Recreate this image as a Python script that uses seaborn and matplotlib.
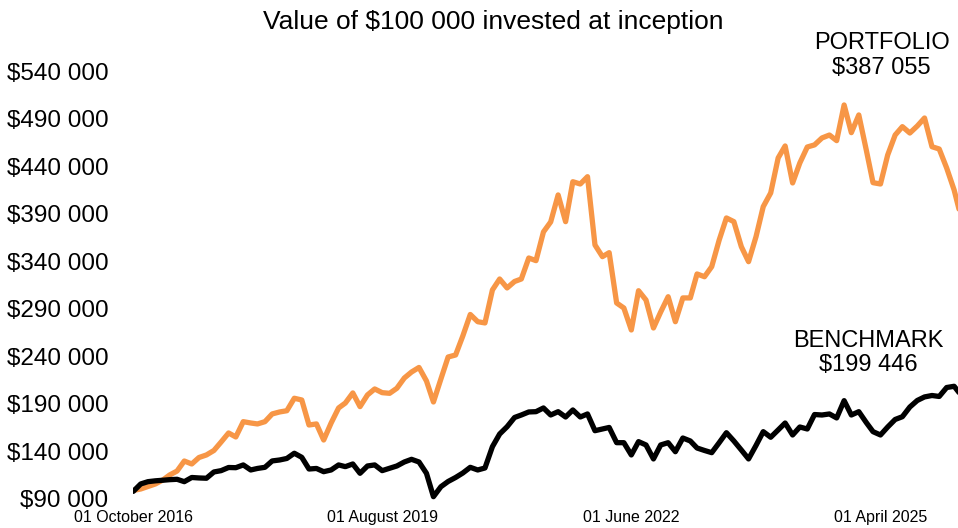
import pandas as pd
import matplotlib
matplotlib.use("Agg")
import matplotlib.pyplot as plt
import matplotlib.ticker as mticker
import seaborn as sns

# monthly values in $ thousands, October 2016 onwards
portfolio = [
    99.0, 100.5, 103.1, 105.8, 110.0, 115.2, 119.4, 129.9, 126.8, 133.6,
    136.3, 141.0, 149.9, 159.4, 155.2, 171.3, 169.9, 168.9, 171.3, 179.4,
    181.5, 182.8, 195.9, 194.1, 167.8, 168.9, 152.0, 169.9, 185.7, 190.9,
    201.5, 187.1, 199.4, 205.7, 201.8, 201.1, 206.4, 217.2, 223.5, 228.3,
    214.1, 192.0, 216.2, 239.3, 241.4, 261.4, 284.0, 276.4, 275.1, 309.8,
    321.3, 311.9, 318.7, 321.3, 343.4, 340.6, 370.8, 381.3, 409.7, 381.6,
    423.6, 421.2, 428.9, 357.1, 344.8, 349.0, 296.1, 290.8, 267.7, 309.0,
    299.2, 269.8, 286.6, 302.7, 276.4, 301.4, 301.4, 326.6, 323.7, 334.3,
    362.3, 385.5, 381.6, 355.3, 339.5, 365.8, 397.4, 411.8, 448.6, 461.2,
    422.3, 443.3, 460.1, 462.3, 469.6, 472.7, 466.8, 504.3, 475.2, 493.8,
    457.0, 422.6, 421.2, 451.7, 472.7, 481.5, 474.8, 482.2, 490.6, 460.4,
    458.0, 438.0, 414.9, 387.055,
]
benchmark = [
    98.0, 105.8, 108.2, 109.1, 109.7, 110.3, 110.7, 108.2, 112.6, 112.1,
    111.8, 118.4, 119.8, 123.1, 122.9, 125.8, 120.5, 122.1, 123.3, 130.0,
    131.0, 132.6, 138.1, 133.8, 121.5, 122.1, 118.7, 120.5, 125.8, 124.0,
    126.8, 117.0, 124.7, 125.8, 119.8, 122.3, 124.7, 128.9, 131.7, 128.9,
    117.0, 92.4, 102.9, 108.4, 112.6, 117.3, 123.3, 120.5, 122.6, 145.0,
    158.3, 166.0, 175.7, 178.3, 181.5, 181.8, 185.7, 178.3, 181.8, 176.2,
    183.6, 176.2, 179.4, 161.8, 163.6, 165.2, 149.2, 149.2, 136.3, 150.3,
    146.8, 132.1, 146.8, 149.2, 139.7, 154.1, 151.0, 143.6, 141.0, 138.7,
    149.2, 159.7, 151.0, 141.5, 132.1, 146.3, 160.8, 154.9, 162.6, 169.9,
    157.3, 165.7, 163.6, 178.8, 178.3, 179.4, 175.2, 193.4, 178.3, 181.8,
    170.4, 160.8, 157.3, 165.7, 173.6, 176.5, 186.7, 193.6, 197.3, 198.8,
    197.8, 207.2, 208.5, 199.446,
]
dates = pd.date_range("2016-10-01", periods=len(portfolio), freq="MS")
tick_dates = pd.to_datetime(["2016-10-01", "2019-08-01", "2022-06-01", "2025-04-01"])
y_ticks = list(range(90000, 540001, 50000))

df = pd.DataFrame({
    "date": list(dates) * 2,
    "value": [v * 1000 for v in portfolio] + [v * 1000 for v in benchmark],
    "series": ["Portfolio"] * len(portfolio) + ["Benchmark"] * len(benchmark),
})

sns.set_style("white")
plt.rcParams["font.family"] = ["Liberation Sans", "DejaVu Sans"]
plt.rcParams["text.color"] = "black"
plt.rcParams["xtick.color"] = "black"
plt.rcParams["ytick.color"] = "black"

fig = plt.figure(figsize=(9.58, 5.28), dpi=100)
ax = fig.add_axes([0.1391, 0.0436, 0.8639, 0.8428])

sns.lineplot(data=df, x="date", y="value", hue="series",
             palette={"Portfolio": "#F79646", "Benchmark": "#000000"},
             linewidth=3.8, legend=False, ax=ax)

ax.set_xlim(dates[0], dates[-1])
ax.set_ylim(83690, 551600)
ax.set_yticks(y_ticks)
ax.yaxis.set_major_formatter(mticker.FuncFormatter(
    lambda v, p: "$" + f"{int(v):,}".replace(",", " ")))
ax.set_xticks(tick_dates)
ax.set_xticklabels([d.strftime("%d %B %Y") for d in tick_dates])
ax.tick_params(axis="y", labelsize=17.5, length=0, pad=18, labelcolor="black")
ax.tick_params(axis="x", labelsize=11.5, length=0, pad=3.5, labelcolor="black")
ax.set_xlabel("")
ax.set_ylabel("")
sns.despine(ax=ax, left=True, bottom=True)
ax.grid(False)

fig.text(0.5146, 0.958, "Value of $100 000 invested at inception",
         ha="center", va="center", fontsize=19, color="black")
fig.text(0.9204, 0.895, "PORTFOLIO\n$387 055", ha="center", va="center",
         fontsize=17, linespacing=1.15, color="black")
fig.text(0.906, 0.3314, "BENCHMARK\n$199 446", ha="center", va="center",
         fontsize=17, linespacing=1.15, color="black")

plt.savefig("out.png", dpi=100)
